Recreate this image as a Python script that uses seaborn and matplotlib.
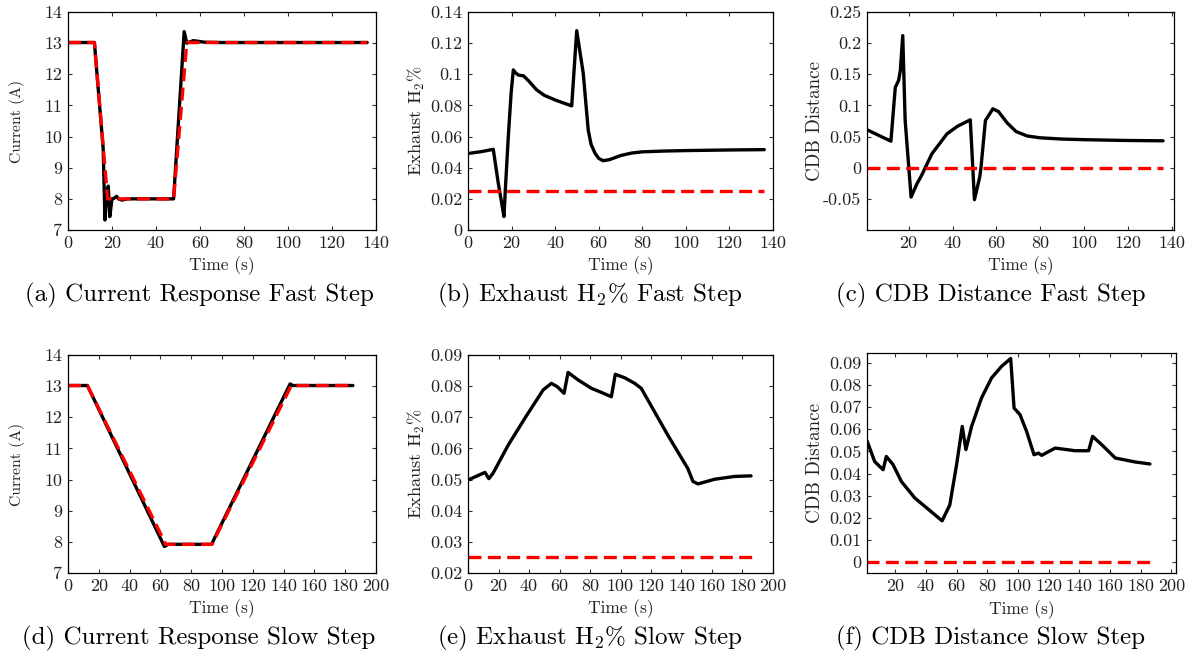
import numpy as np
import pandas as pd
import matplotlib
matplotlib.use("Agg")
import matplotlib.pyplot as plt
import seaborn as sns
from matplotlib.ticker import FuncFormatter, FixedLocator

# ---------------- data ----------------
# (a) current response, fast step
a_t_meas = [0, 12, 16, 16.8, 17.4, 18.3, 19.0, 20.0, 21.0, 22.1, 23.0, 24.5, 27, 48, 52.8, 54.0, 55.0, 57.0, 62.0, 70.0, 136]
a_v_meas = [13.02, 13.02, 9.6, 7.32, 8.0, 8.41, 7.43, 8.0, 8.02, 8.08, 8.0, 7.96, 8.0, 8.0, 13.37, 13.0, 13.03, 13.08, 13.03, 13.02, 13.02]
a_t_ref = [0, 12, 18, 48, 54, 136]
a_v_ref = [13.02, 13.02, 8.0, 8.0, 13.02, 13.02]

# (b) exhaust H2 %, fast step
b_t = [0.9, 6, 11.6, 13.9, 15.5, 16.5, 17.3, 18.5, 19.8, 20.8, 21.8, 23.1, 25.5, 28, 31.5, 35, 40, 44, 47.6,
       49.9, 52.9, 54.0, 55.2, 56.5, 58.3, 60, 62, 65, 70, 75, 80, 90, 100, 120, 136]
b_v = [0.0493, 0.0503, 0.0518, 0.030, 0.017, 0.0086, 0.030, 0.060, 0.088, 0.1028, 0.101, 0.0995, 0.099, 0.0955,
       0.090, 0.0865, 0.0835, 0.0815, 0.0797, 0.128, 0.1006, 0.083, 0.064, 0.055, 0.0493, 0.046, 0.0445, 0.0452,
       0.0478, 0.0494, 0.0502, 0.0507, 0.0510, 0.0514, 0.0516]
b_limit_t = [0, 136]
b_limit_v = [0.025, 0.025]

# (c) CDB distance, fast step
c_t = [1, 11.9, 13.9, 15.4, 16.2, 17.3, 18.4, 21.1, 23.8, 25.9, 30.6, 37.5, 42.1, 48.1, 50.0, 52.4, 53.0, 55.0,
       58.4, 61, 64.9, 69, 74, 80, 90, 100, 120, 136]
c_v = [0.0609, 0.0426, 0.129, 0.140, 0.156, 0.212, 0.0758, -0.0471, -0.0256, -0.0123, 0.0224, 0.0545, 0.0662, 0.0769,
       -0.0513, -0.015, 0.001, 0.0758, 0.0946, 0.090, 0.072, 0.058, 0.051, 0.048, 0.046, 0.045, 0.0437, 0.0432]
c_limit_t = [1, 136]
c_limit_v = [0.0, 0.0]

# (d) current response, slow step
d_t_meas = [0, 12.6, 62.6, 65.0, 93.2, 144.2, 146.0, 185]
d_v_meas = [13.02, 13.02, 7.85, 7.92, 7.92, 13.07, 13.02, 13.02]
d_t_ref = [0, 12.6, 63.5, 93.5, 145.0, 185]
d_v_ref = [13.02, 13.02, 7.92, 7.92, 13.02, 13.02]

# (e) exhaust H2 %, slow step
e_t = [0.2, 11.1, 13.7, 16.5, 26.4, 37.3, 49.3, 54.7, 58.6, 63.0, 65.6, 72.2, 80.9, 87.4, 94.0, 96.6, 102.7,
       109.3, 113.6, 131.1, 144.2, 147.5, 150.8, 161.7, 174.7, 185.6]
e_v = [0.0499, 0.0523, 0.0503, 0.0521, 0.0611, 0.0697, 0.0788, 0.0809, 0.0798, 0.0777, 0.0844, 0.0820, 0.0793,
       0.0780, 0.0766, 0.0838, 0.0827, 0.0809, 0.0793, 0.0642, 0.0535, 0.0494, 0.0486, 0.0501, 0.0510, 0.0512]
e_limit_t = [0, 186]
e_limit_v = [0.025, 0.025]

# (f) CDB distance, slow step
f_t = [1.5, 6.5, 12.0, 14.1, 18.5, 23.9, 32.7, 50.5, 55.5, 59.9, 63.6, 66.0, 69.7, 76.2, 82.7, 89.3, 95.2, 97.4,
       101.3, 105.6, 110.4, 113.3, 115.4, 124.2, 137.3, 146.0, 148.6, 154.6, 163.4, 176.5, 186.0]
f_v = [0.0548, 0.0454, 0.0417, 0.0477, 0.0440, 0.0364, 0.0289, 0.0186, 0.0258, 0.0439, 0.0613, 0.0508, 0.0613,
       0.0742, 0.0832, 0.0885, 0.092, 0.0696, 0.0666, 0.059, 0.0485, 0.0492, 0.0482, 0.0515, 0.0503, 0.0503,
       0.0568, 0.053, 0.047, 0.0452, 0.0443]
f_limit_t = [1, 186]
f_limit_v = [0.0, 0.0]

captions = [
    "(a) Current Response Fast Step",
    "(b) Exhaust H$_2$% Fast Step",
    "(c) CDB Distance Fast Step",
    "(d) Current Response Slow Step",
    "(e) Exhaust H$_2$% Slow Step",
    "(f) CDB Distance Slow Step",
]
ylabels = ["Current (A)", "Exhaust H$_2$%", "CDB Distance",
           "Current (A)", "Exhaust H$_2$%", "CDB Distance"]

# ---------------- style ----------------
sns.set_theme(style="ticks")
plt.rcParams.update({
    "font.family": ["cmr10", "DejaVu Serif"],
    "mathtext.fontset": "cm",
    "axes.unicode_minus": False,
    "axes.formatter.use_mathtext": True,
    "axes.linewidth": 0.9,
    "axes.edgecolor": "black",
    "xtick.direction": "in",
    "ytick.direction": "in",
    "xtick.top": True,
    "ytick.right": True,
    "xtick.major.size": 3.2,
    "ytick.major.size": 3.2,
    "xtick.major.width": 0.8,
    "ytick.major.width": 0.8,
    "xtick.color": "#333333",
    "ytick.color": "#333333",
    "xtick.labelcolor": "#222222",
    "ytick.labelcolor": "#222222",
    "xtick.labelsize": 13,
    "ytick.labelsize": 13,
    "axes.labelsize": 12.5,
    "axes.labelcolor": "#222222",
})

fig = plt.figure(figsize=(11.9, 6.55), dpi=100)
W, H = 1190.0, 655.0

def add_ax(l, r, t, b):
    return fig.add_axes([l / W, 1 - b / H, (r - l) / W, (b - t) / H])

axes = [
    add_ax(68, 376, 12, 230),
    add_ax(468, 773, 12, 230),
    add_ax(867, 1174, 12, 230),
    add_ax(68, 376, 355, 573),
    add_ax(468, 773, 355, 573),
    add_ax(867, 1176, 353, 573),
]

BLACK_LW = 2.4
RED_LW = 2.4
DASH = (3.9, 1.9)

def black(ax, t, v):
    sns.lineplot(x=t, y=v, ax=ax, color="black", lw=BLACK_LW, estimator=None, sort=False)

def red(ax, t, v):
    sns.lineplot(x=t, y=v, ax=ax, color="#ff0000", lw=RED_LW, estimator=None, sort=False)
    ax.get_lines()[-1].set_dashes(DASH)

black(axes[0], a_t_meas, a_v_meas)
red(axes[0], a_t_ref, a_v_ref)
black(axes[1], b_t, b_v)
red(axes[1], b_limit_t, b_limit_v)
black(axes[2], c_t, c_v)
red(axes[2], c_limit_t, c_limit_v)
black(axes[3], d_t_meas, d_v_meas)
red(axes[3], d_t_ref, d_v_ref)
black(axes[4], e_t, e_v)
red(axes[4], e_limit_t, e_limit_v)
black(axes[5], f_t, f_v)
red(axes[5], f_limit_t, f_limit_v)

fmt = FuncFormatter(lambda x, p: "%g" % round(x, 6))

limits = [
    ((0, 140), (7, 14), np.arange(0, 141, 20), np.arange(7, 14.1, 1)),
    ((0, 140), (0, 0.14), np.arange(0, 141, 20), np.arange(0, 0.1401, 0.02)),
    ((1, 141), (-0.1, 0.25), np.arange(20, 141, 20), np.arange(-0.05, 0.2501, 0.05)),
    ((0, 200), (7, 14), np.arange(0, 201, 20), np.arange(7, 14.1, 1)),
    ((0, 200), (0.02, 0.09), np.arange(0, 201, 20), np.arange(0.02, 0.0901, 0.01)),
    ((1.5, 203), (-0.005, 0.0945), np.arange(20, 201, 20), np.arange(0, 0.0901, 0.01)),
]
ylab_x = [-0.166, -0.168, -0.169, -0.166, -0.168, -0.168]
ylab_size = [11.3, 13.2, 13.7, 11.3, 13.2, 13.7]

for ax, (xl, yl, xt, yt), yl_txt, yx, ys in zip(axes, limits, ylabels, ylab_x, ylab_size):
    ax.set_xlim(*xl)
    ax.set_ylim(*yl)
    ax.xaxis.set_major_locator(FixedLocator(xt))
    ax.yaxis.set_major_locator(FixedLocator(yt))
    ax.xaxis.set_major_formatter(fmt)
    ax.yaxis.set_major_formatter(fmt)
    ax.set_xlabel("Time (s)")
    ax.set_ylabel(yl_txt, fontsize=ys)
    ax.xaxis.label.set_va("center")
    ax.yaxis.label.set_va("center")
    ax.xaxis.set_label_coords(0.5, -36.0 / 218.0)
    ax.yaxis.set_label_coords(yx, 0.5)
    for s in ax.spines.values():
        s.set_visible(True)
        s.set_color("black")
    ax.tick_params(axis="x", pad=4)
    ax.tick_params(axis="y", pad=4)

cap_x = [199, 590, 991, 199, 590, 991]
cap_y = [295, 295, 295, 638, 638, 638]
for cx, cy, txt in zip(cap_x, cap_y, captions):
    fig.text(cx / W, 1 - cy / H, txt, ha="center", va="center", fontsize=18, color="black")

fig.savefig("out.png", dpi=100)
